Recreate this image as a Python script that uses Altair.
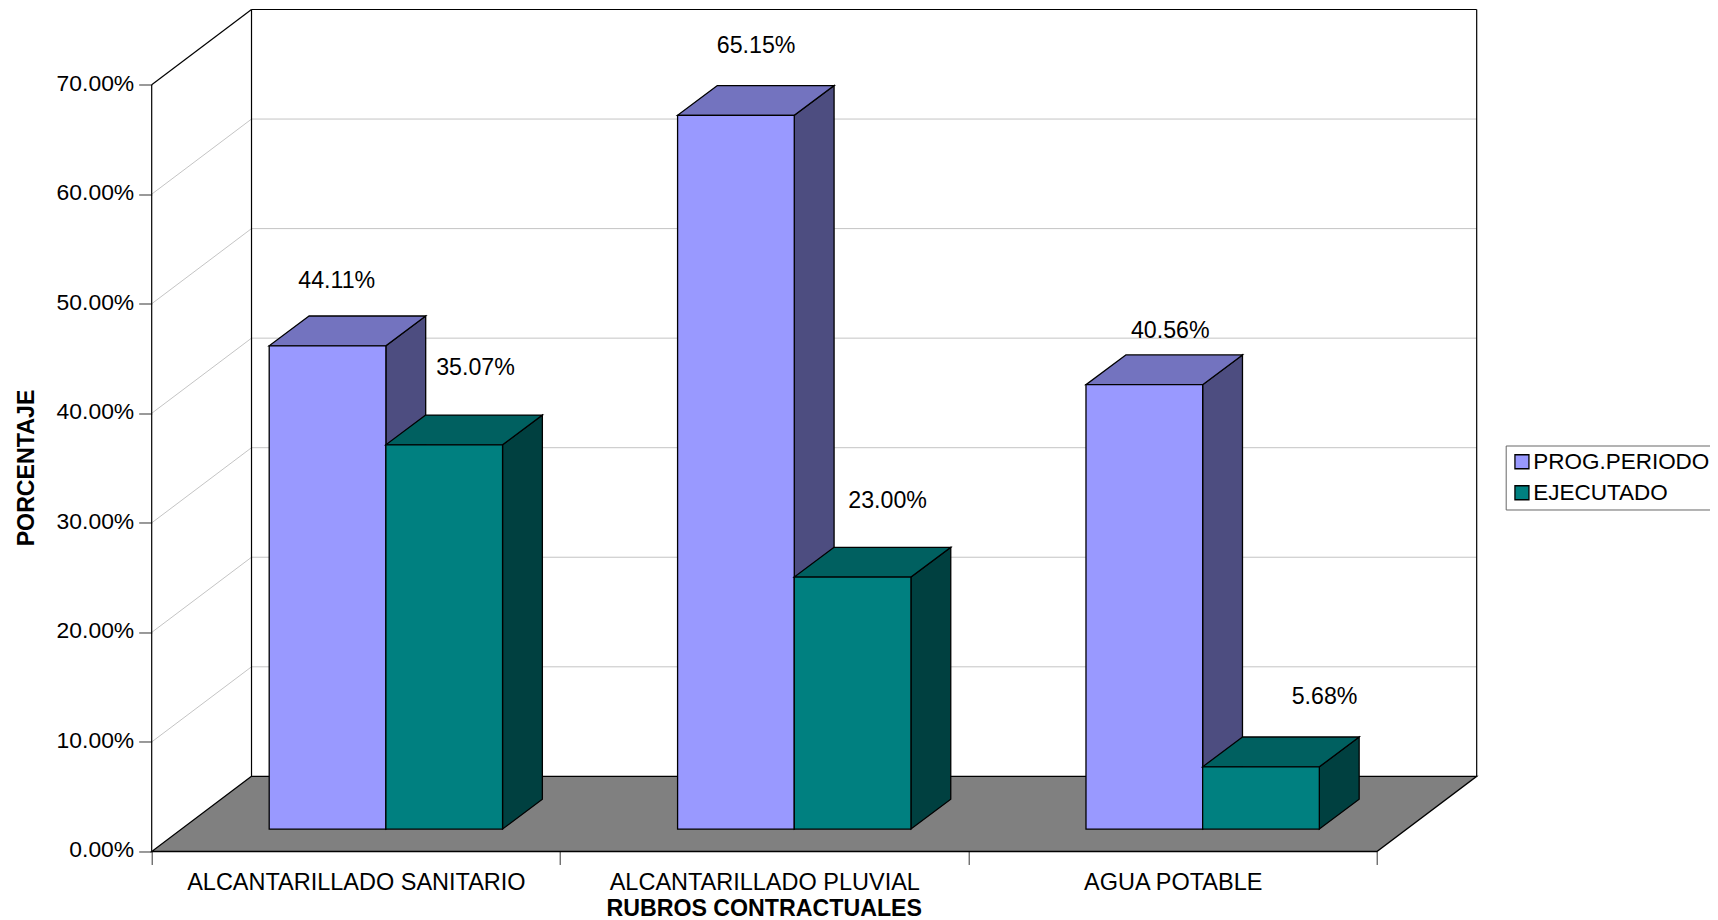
import altair as alt
import pandas as pd

categories = ["ALCANTARILLADO SANITARIO", "ALCANTARILLADO PLUVIAL", "AGUA POTABLE"]
series_names = ["PROG.PERIODO", "EJECUTADO"]
prog_values = [44.11, 65.15, 40.56]
ejec_values = [35.07, 23.00, 5.68]
prog_colors = ["#9999FF", "#4D4D80", "#7373BF"]
ejec_colors = ["#008080", "#004040", "#006060"]
prog_label_x = [0.453, 1.480, 2.494]
prog_label_y = [52.22, 73.62, 47.62]
ejec_label_x = [0.793, 1.802, 2.872]
ejec_label_y = [44.23, 32.12, 14.21]
y_ticks = [0, 10, 20, 30, 40, 50, 60, 70]

FONT = "Liberation Sans"
FS = 22.9
WALL_X, WALL_Y = 0.2444, 6.86
BAR_W, BAR_DX, BAR_DY = 0.2857, 0.0975, 2.72
BASE, BAR_START = 2.05, 0.2877
X_MAX, Y_MAX = 3 + WALL_X, 70 + WALL_Y

xs = alt.Scale(domain=[0, X_MAX], nice=False, zero=False)
ys = alt.Scale(domain=[0, Y_MAX], nice=False, zero=False)
X = alt.X("x:Q", scale=xs, axis=None, stack=False)
Y = alt.Y("y:Q", scale=ys, axis=None, stack=False)

x_axis = alt.Axis(
    values=[0, 0.5, 1, 1.5, 2, 2.5, 3], domain=False, grid=False, title="RUBROS CONTRACTUALES",
    labelExpr="datum.value == 0.5 ? '%s' : datum.value == 1.5 ? '%s' : datum.value == 2.5 ? '%s' : ''" % tuple(categories),
    tickOpacity=alt.condition("datum.value % 1 == 0", alt.value(1), alt.value(0)),
    tickSize=13, tickColor="#333", labelFont=FONT, labelFontSize=23.5, labelColor="black", labelPadding=6,
    labelOverlap=False, labelFlush=False, labelLimit=600,
    titleFont=FONT, titleFontSize=23.2, titleFontWeight="bold", titleColor="black",
    titleX=612, titleY=69, titleAnchor="middle", titleAlign="center", titleBaseline="bottom",
)
y_axis = alt.Axis(
    values=y_ticks, domain=False, grid=False, title="PORCENTAJE",
    labelExpr="format(datum.value, '.2f') + '%'",
    tickSize=13, tickColor="#333", labelFont=FONT, labelFontSize=FS, labelColor="black", labelPadding=5,
    labelOffset=-1.5,
    titleFont=FONT, titleFontSize=23.2, titleFontWeight="bold", titleColor="black",
    titleX=-113, titleY=458, titleAnchor="middle", titleAlign="center", titleBaseline="bottom",
)


def seg(rows, color, width=1.0):
    d = pd.DataFrame(rows, columns=["x", "y", "x2", "y2"])
    return alt.Chart(d).mark_rule(color=color, strokeWidth=width).encode(
        x=X, y=Y, x2="x2:Q", y2="y2:Q")


def vquad(rows, fill):
    d = pd.DataFrame(rows, columns=["id", "x", "y", "y2"])
    return alt.Chart(d).mark_area(orient="vertical", fill=fill, stroke="black", strokeWidth=1.3, opacity=1).encode(
        x=X, y=Y, y2="y2:Q", detail="id:N")


def hquad(rows, fill):
    d = pd.DataFrame(rows, columns=["id", "y", "x", "x2"])
    return alt.Chart(d).mark_area(orient="horizontal", fill=fill, stroke="black", strokeWidth=1.3, opacity=1).encode(
        x=X, y=Y, x2="x2:Q", detail="id:N")


axes = alt.Chart(pd.DataFrame({"x": [0, 3], "y": [0, 70]})).mark_point(opacity=0).encode(
    x=alt.X("x:Q", scale=xs, axis=x_axis),
    y=alt.Y("y:Q", scale=ys, axis=y_axis),
)

grid_side = seg([[0, t, WALL_X, t + WALL_Y] for t in y_ticks[1:-1]], "#c4c4c4")
grid_back = seg([[WALL_X, t + WALL_Y, X_MAX, t + WALL_Y] for t in y_ticks[1:-1]], "#c4c4c4")
walls = seg([
    [0, 0, 0, 70],
    [0, 70, WALL_X, Y_MAX],
    [WALL_X, Y_MAX, X_MAX, Y_MAX],
    [WALL_X, WALL_Y, WALL_X, Y_MAX],
    [X_MAX, WALL_Y, X_MAX, Y_MAX],
], "black", 1.2)
floor = hquad([["f", 0, 0, 3], ["f", WALL_Y, WALL_X, X_MAX]], "#808080")


def bar_layers(values, offset):
    front, side, top = [], [], []
    for i, v in enumerate(values):
        x0 = i + BAR_START + offset * BAR_W
        x1 = x0 + BAR_W
        front += [[i, x0, BASE + v, BASE], [i, x1, BASE + v, BASE]]
        side += [[i, x1, BASE + v, BASE], [i, x1 + BAR_DX, BASE + v + BAR_DY, BASE + BAR_DY]]
        top += [[i, BASE + v, x0, x1], [i, BASE + v + BAR_DY, x0 + BAR_DX, x1 + BAR_DX]]
    return front, side, top


def front_layer(rows, name):
    d = pd.DataFrame(rows, columns=["id", "x", "y", "y2"])
    d["serie"] = name
    return alt.Chart(d).mark_area(orient="vertical", stroke="black", strokeWidth=1.3, opacity=1).encode(
        x=X, y=Y, y2="y2:Q", detail="id:N",
        color=alt.Color("serie:N",
                        scale=alt.Scale(domain=series_names, range=[prog_colors[0], ejec_colors[0]]),
                        legend=alt.Legend(
                            title=None, orient="none", legendX=1354, legendY=436,
                            symbolType="square", symbolSize=196, symbolStrokeColor="black",
                            symbolStrokeWidth=1.3, symbolOpacity=1,
                            labelFont=FONT, labelFontSize=22.5, labelColor="black", labelOffset=0,
                            labelLimit=400, rowPadding=8, padding=5,
                            fillColor="white", strokeColor="#666",
                        )),
    )


pf, ps, pt = bar_layers(prog_values, 0)
ef, es, et = bar_layers(ejec_values, 1)

label_df = pd.DataFrame({
    "x": prog_label_x + ejec_label_x,
    "y": prog_label_y + ejec_label_y,
    "t": ["%.2f%%" % v for v in prog_values + ejec_values],
})
labels = alt.Chart(label_df).mark_text(font=FONT, fontSize=23.2, color="black", baseline="middle", align="center", dy=1.5).encode(
    x=X, y=Y, text="t:N")

chart = alt.layer(
    axes, grid_side, grid_back, walls, floor,
    vquad(ps, prog_colors[1]), hquad(pt, prog_colors[2]), front_layer(pf, series_names[0]),
    vquad(es, ejec_colors[1]), hquad(et, ejec_colors[2]), front_layer(ef, series_names[1]),
    labels,
).resolve_axis(x="independent", y="independent").properties(
    width=1325, height=842,
    autosize=alt.AutoSizeParams(type="none"),
    padding={"left": 143.7, "top": 1.5, "right": 233, "bottom": 69},
).configure_view(stroke=None)

chart.save("out.html", embed_options={"renderer": "svg", "actions": False})
